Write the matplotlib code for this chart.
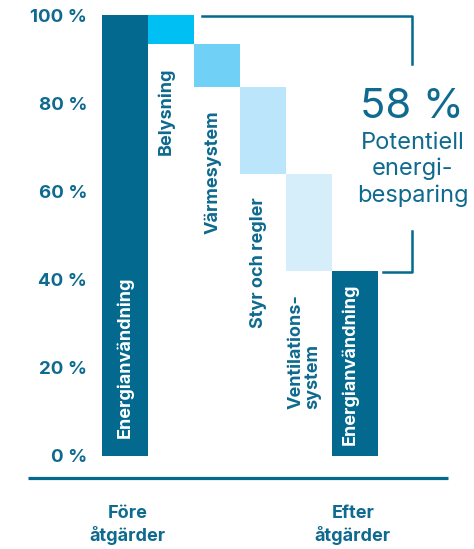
import matplotlib.pyplot as plt

plt.rcParams['font.family'] = ['Inter', 'DejaVu Sans']

# data (percent of energy use before measures)
steps = ['Energianvändning', 'Belysning', 'Värmesystem', 'Styr och regler',
         'Ventilations-\nsystem', 'Energianvändning']
savings = [6.5, 9.8, 19.7, 22.0]
before = 100.0
after = before - sum(savings)
yticks = [0, 20, 40, 60, 80, 100]
group_labels = ['Före\nåtgärder', 'Efter\nåtgärder']

dark = '#03698f'
textc = '#0e6a8e'
step_colors = ['#00bff3', '#70d0f6', '#bae5fa', '#d5eefa']

W, H = 474, 549
fig = plt.figure(figsize=(W / 100, H / 100), dpi=100)
# pixel based placement of the axes
L, R, T, B = 95, 448, 15, 478
ax = fig.add_axes([L / W, 1 - B / H, (R - L) / W, (B - T) / H])

x0, step_px = 125, 46
ax.set_xlim((L - x0) / step_px, (R - x0) / step_px)
px_per = (455.7 - T) / 100
ax.set_ylim(-(B - 455.7) / px_per, 100)

# bars
ax.bar(0, before, width=1.0, color=dark, linewidth=0)
top = before
for i, s in enumerate(savings):
    ax.bar(i + 1, s, bottom=top - s, width=1.0, color=step_colors[i], linewidth=0)
    ax.text(i + 1 - 0.1, top - s - 5.3, steps[i + 1], rotation=90, ha='center', va='top',
            multialignment='left', color=textc, fontsize=13, fontweight='bold',
            linespacing=1.0)
    top -= s
ax.bar(5, after, width=1.0, color=dark, linewidth=0)
ax.text(0, 4.0, steps[0], rotation=90, ha='center', va='bottom', color='white',
        fontsize=13, fontweight='bold')
ax.text(5 - 0.1, 2.5, steps[5], rotation=90, ha='center', va='bottom', color='white',
        fontsize=13, fontweight='bold')

# axis styling
for sp in ax.spines.values():
    sp.set_visible(False)
ax.set_xticks([])
ax.set_yticks(yticks)
ax.set_yticklabels([f'{v} %' for v in yticks])
ax.tick_params(axis='y', length=0, pad=5.5, labelcolor=textc, labelsize=13.5)
for lab in ax.get_yticklabels():
    lab.set_fontweight('bold')

# baseline
ax.plot([(28 - x0) / step_px, (448 - x0) / step_px], [-5.06, -5.06], color=dark,
        lw=2.3, clip_on=False, solid_capstyle='butt')

# group labels
ax.text(0.05, -15.8, group_labels[0], ha='center', va='center', color=textc,
        fontsize=13, fontweight='bold', linespacing=1.25, clip_on=False)
ax.text(5 - 0.05, -15.8, group_labels[1], ha='center', va='center', color=textc,
        fontsize=13, fontweight='bold', linespacing=1.25, clip_on=False)

# bracket showing the savings
xr = (412 - x0) / step_px
ax.plot([(202 - x0) / step_px, xr, xr], [99.85, 99.85, 88.9], color=dark, lw=1.8,
        clip_on=False)
ax.plot([xr, xr, (383 - x0) / step_px], [51.0, after - 0.4, after - 0.4], color=dark,
        lw=1.8, clip_on=False)
ax.text(xr, 79.1, f'{round(before - after)} %', ha='center', va='center', color=textc,
        fontsize=30, clip_on=False)
ax.text(xr + 0.02, 65.0, 'Potentiell\nenergi-\nbesparing', ha='center', va='center',
        color=textc, fontsize=17, linespacing=1.22, clip_on=False)

fig.savefig('out.png', dpi=100)
